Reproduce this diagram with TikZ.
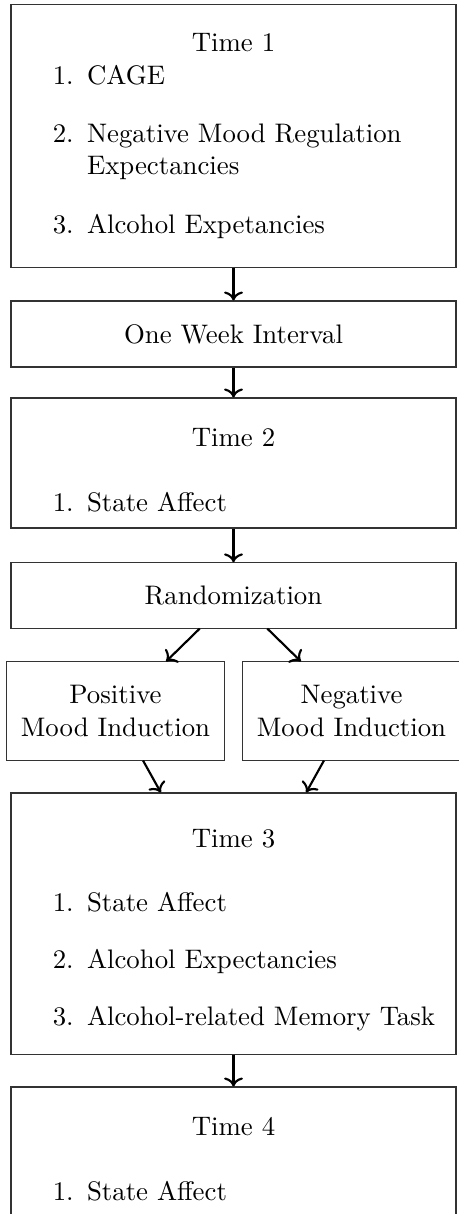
\documentclass[tikz,border=0pt]{standalone}
\usepackage{tikz}
\usetikzlibrary{arrows.meta, positioning}

\newcommand{\itemlabel}[1]{\makebox[25pt][r]{#1\hspace{5pt}}}

\begin{document}
\begin{tikzpicture}[
  x=0.3731pt, y=-0.3731pt,
  stagebox/.style={
    draw=black!80,
    line width=0.4pt,
    text width=159.3pt,
    minimum width=166pt,
    align=left,
    inner sep=3.33pt
  },
  armbox/.style={
    draw=black!80,
    line width=0.4pt,
    minimum width=81pt,
    minimum height=36.6pt,
    align=center
  },
  arrow/.style={
    draw=black,
    ->,
    thick
  }
]
\useasboundingbox (0,0) rectangle (458,1214);

% Time 1
\node[stagebox, minimum height=97.8pt] (t1) at (233.5,136)
{\hfil Time 1\hfil\\
\itemlabel{1.}CAGE\\[9.8pt]
\itemlabel{2.}Negative Mood Regulation\\
\itemlabel{}Expectancies\\[9.8pt]
\itemlabel{3.}Alcohol Expetancies};

% Interval
\node[stagebox, minimum height=24.6pt, align=center] (week) at (233.5,334)
{One Week Interval};

% Time 2
\node[stagebox, minimum height=48.5pt] (t2) at (233.5,463)
{\hfil\rule{0pt}{12pt}Time 2\hfil\\[12.3pt]
\itemlabel{1.}State Affect};

% Randomization
\node[stagebox, minimum height=24.3pt, align=center] (rand) at (233.5,595.5)
{Randomization};

% Two mood inductions
\node[armbox] (pos) at (115.5,711) {Positive\\Mood Induction};
\node[armbox] (neg) at (351.5,711) {Negative\\Mood Induction};

% Time 3
\node[stagebox, minimum height=97.4pt] (t3) at (233.5,923.5)
{\hfil\rule{0pt}{12pt}Time 3\hfil\\[11.9pt]
\itemlabel{1.}State Affect\\[9.3pt]
\itemlabel{2.}Alcohol Expectancies\\[9.3pt]
\itemlabel{3.}Alcohol-related Memory Task};

% Time 4
\node[stagebox, minimum height=48.5pt] (t4) at (233.5,1152)
{\hfil\rule{0pt}{12pt}Time 4\hfil\\[12.3pt]
\itemlabel{1.}State Affect};

% Arrows
\draw[arrow] (t1) -- (week);
\draw[arrow] (week) -- (t2);
\draw[arrow] (t2) -- (rand);
\draw[arrow] (rand) -- (pos);
\draw[arrow] (rand) -- (neg);
\draw[arrow] (pos) -- (t3);
\draw[arrow] (neg) -- (t3);
\draw[arrow] (t3) -- (t4);

\end{tikzpicture}
\end{document}
